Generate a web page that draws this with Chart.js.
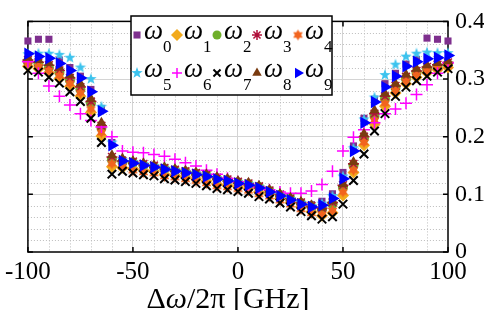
<!DOCTYPE html>
<html>
<head>
<meta charset="utf-8">
<script src="https://cdn.jsdelivr.net/npm/chart.js@4.4.0/dist/chart.umd.min.js"></script>
<style>
  html, body { margin: 0; padding: 0; background: #fff; }
  #wrap { width: 484px; height: 310px; }
</style>
</head>
<body>
<div id="wrap"><canvas id="detuningChart" width="484" height="310"></canvas></div>
<script>
// detuning in GHz, one point every 5 GHz
const detuning = [-100, -95, -90, -85, -80, -75, -70, -65, -60, -55, -50, -45, -40, -35, -30, -25, -20, -15, -10, -5,
    0, 5, 10, 15, 20, 25, 30, 35, 40, 45, 50, 55, 60, 65, 70, 75, 80, 85, 90, 95, 100];

const omega0 = [0.366, 0.369, 0.369, 0.333, 0.320, 0.305, 0.282, 0.249, 0.190, 0.160, 0.155, 0.151, 0.148, 0.144, 0.141, 0.138, 0.135, 0.132, 0.127, 0.124,
    0.120, 0.117, 0.112, 0.105, 0.098, 0.092, 0.086, 0.082, 0.088, 0.101, 0.138, 0.184, 0.232, 0.265, 0.292, 0.310, 0.326, 0.334, 0.371, 0.369, 0.366];
const omega1 = [0.322, 0.318, 0.311, 0.301, 0.287, 0.270, 0.242, 0.201, 0.148, 0.146, 0.145, 0.142, 0.140, 0.135, 0.133, 0.130, 0.127, 0.123, 0.118, 0.116,
    0.113, 0.110, 0.104, 0.100, 0.093, 0.086, 0.078, 0.070, 0.063, 0.068, 0.098, 0.138, 0.185, 0.222, 0.253, 0.276, 0.292, 0.303, 0.311, 0.316, 0.320];
const omega2 = [0.330, 0.326, 0.320, 0.311, 0.298, 0.282, 0.258, 0.215, 0.160, 0.156, 0.155, 0.151, 0.148, 0.145, 0.142, 0.139, 0.136, 0.133, 0.128, 0.125,
    0.121, 0.118, 0.113, 0.106, 0.099, 0.092, 0.085, 0.079, 0.074, 0.083, 0.112, 0.150, 0.197, 0.236, 0.266, 0.285, 0.300, 0.311, 0.318, 0.322, 0.326];
const omega3 = [0.333, 0.329, 0.324, 0.315, 0.302, 0.286, 0.261, 0.219, 0.165, 0.158, 0.157, 0.153, 0.150, 0.146, 0.143, 0.140, 0.137, 0.134, 0.129, 0.126,
    0.122, 0.119, 0.114, 0.107, 0.100, 0.093, 0.086, 0.080, 0.076, 0.086, 0.116, 0.153, 0.200, 0.240, 0.270, 0.288, 0.304, 0.314, 0.321, 0.325, 0.329];
const omega4 = [0.326, 0.322, 0.315, 0.306, 0.292, 0.276, 0.248, 0.207, 0.153, 0.148, 0.141, 0.138, 0.136, 0.131, 0.129, 0.126, 0.123, 0.119, 0.114, 0.112,
    0.109, 0.106, 0.100, 0.096, 0.089, 0.082, 0.074, 0.067, 0.065, 0.072, 0.104, 0.142, 0.190, 0.228, 0.258, 0.280, 0.296, 0.307, 0.314, 0.319, 0.323];
const omega5 = [0.343, 0.344, 0.344, 0.342, 0.337, 0.320, 0.300, 0.252, 0.190, 0.160, 0.156, 0.152, 0.149, 0.145, 0.142, 0.139, 0.136, 0.133, 0.128, 0.125,
    0.121, 0.118, 0.113, 0.106, 0.099, 0.092, 0.085, 0.080, 0.084, 0.097, 0.131, 0.180, 0.230, 0.268, 0.307, 0.325, 0.339, 0.344, 0.346, 0.345, 0.345];
const omega6 = [0.330, 0.310, 0.288, 0.270, 0.255, 0.240, 0.228, 0.217, 0.200, 0.175, 0.173, 0.172, 0.169, 0.166, 0.161, 0.155, 0.149, 0.142, 0.135, 0.128,
    0.122, 0.117, 0.112, 0.108, 0.104, 0.102, 0.102, 0.106, 0.117, 0.140, 0.175, 0.199, 0.212, 0.224, 0.240, 0.248, 0.258, 0.273, 0.290, 0.310, 0.328];
const omega7 = [0.315, 0.312, 0.303, 0.293, 0.278, 0.261, 0.232, 0.190, 0.135, 0.140, 0.137, 0.134, 0.132, 0.127, 0.125, 0.122, 0.119, 0.115, 0.110, 0.108,
    0.105, 0.102, 0.096, 0.092, 0.085, 0.078, 0.070, 0.063, 0.057, 0.061, 0.083, 0.124, 0.170, 0.210, 0.240, 0.270, 0.286, 0.297, 0.305, 0.312, 0.318];
const omega8 = [0.337, 0.333, 0.328, 0.320, 0.307, 0.292, 0.266, 0.224, 0.168, 0.162, 0.158, 0.154, 0.151, 0.147, 0.144, 0.141, 0.138, 0.135, 0.130, 0.127,
    0.123, 0.120, 0.115, 0.108, 0.101, 0.094, 0.087, 0.081, 0.077, 0.088, 0.118, 0.156, 0.205, 0.246, 0.275, 0.292, 0.308, 0.318, 0.324, 0.328, 0.331];
const omega9 = [0.344, 0.339, 0.336, 0.327, 0.315, 0.302, 0.278, 0.244, 0.185, 0.158, 0.154, 0.150, 0.147, 0.143, 0.140, 0.137, 0.134, 0.131, 0.126, 0.123,
    0.119, 0.116, 0.111, 0.104, 0.097, 0.090, 0.083, 0.078, 0.081, 0.093, 0.127, 0.175, 0.224, 0.260, 0.286, 0.305, 0.322, 0.330, 0.335, 0.337, 0.341];

const xTickValues = [-100, -50, 0, 50, 100];
const yTickValues = [0, 0.1, 0.2, 0.3, 0.4];
const subscripts = ['0', '1', '2', '3', '4', '5', '6', '7', '8', '9'];

const FONT = "'Liberation Serif', 'Times New Roman', serif";

// filled star marker drawn on a small canvas (used as pointStyle image)
function makeStar(points, outer, inner, color) {
    const c = document.createElement('canvas');
    const s = Math.ceil(outer * 2 + 2);
    c.width = s;
    c.height = s;
    const g = c.getContext('2d');
    g.fillStyle = color;
    g.beginPath();
    for (let i = 0; i < points * 2; i++) {
        const r = i % 2 === 0 ? outer : inner;
        const a = -Math.PI / 2 + i * Math.PI / points;
        const px = s / 2 + r * Math.cos(a);
        const py = s / 2 + r * Math.sin(a);
        if (i === 0) g.moveTo(px, py); else g.lineTo(px, py);
    }
    g.closePath();
    g.fill();
    return c;
}

const hexOrange = makeStar(6, 5.5, 3.2, '#F2641E');
const pentaCyan = makeStar(5, 6, 2.4, '#3CC3EE');

const series = [
    { values: omega0, style: 'rect', radius: 5, legendRadius: 5, color: '#7E2F8E', fill: true },
    { values: omega1, style: 'rectRot', radius: 6, legendRadius: 6, color: '#F2AA1C', fill: true },
    { values: omega2, style: 'circle', radius: 5, legendRadius: 4.5, color: '#6FAF2A', fill: true },
    { values: omega3, style: 'star', radius: 5.5, legendRadius: 5, color: '#B0103A', fill: false, line: 1.5 },
    { values: omega4, style: hexOrange, radius: 5, legendRadius: 5, color: '#F2641E', fill: true },
    { values: omega5, style: pentaCyan, radius: 5, legendRadius: 5, color: '#3CC3EE', fill: true },
    { values: omega6, style: 'cross', radius: 6, legendRadius: 5, color: '#FF00FF', fill: false, line: 1.5 },
    { values: omega7, style: 'crossRot', radius: 6, legendRadius: 5, color: '#000000', fill: false, line: 2 },
    { values: omega8, style: 'triangle', radius: 6, legendRadius: 5.5, color: '#7A3B10', fill: true },
    { values: omega9, style: 'triangle', radius: 7.2, legendRadius: 6, color: '#0000FF', fill: true, rotation: 90 }
];

const framePlugin = {
    id: 'frame',
    beforeDatasetsDraw(chart) {
        const { ctx, chartArea: a, scales: { x, y } } = chart;
        ctx.save();
        // minor dotted grid
        ctx.strokeStyle = '#bdbdbd';
        ctx.lineWidth = 1;
        ctx.setLineDash([1, 2]);
        for (let v = -90; v <= 90; v += 10) {
            if (v % 50 === 0) continue;
            const px = Math.round(x.getPixelForValue(v)) + 0.5;
            ctx.beginPath();
            ctx.moveTo(px, a.top);
            ctx.lineTo(px, a.bottom);
            ctx.stroke();
        }
        for (let k = 1; k < 20; k++) {
            if (k % 5 === 0) continue;
            const py = Math.round(y.getPixelForValue(k * 0.02)) + 0.5;
            ctx.beginPath();
            ctx.moveTo(a.left, py);
            ctx.lineTo(a.right, py);
            ctx.stroke();
        }
        ctx.setLineDash([]);

        // box and inward ticks
        ctx.strokeStyle = '#000';
        ctx.lineWidth = 1.5;
        ctx.strokeRect(a.left, a.top, a.width, a.height);
        const tl = 5;
        ctx.beginPath();
        xTickValues.forEach(v => {
            const px = x.getPixelForValue(v);
            ctx.moveTo(px, a.bottom); ctx.lineTo(px, a.bottom - tl);
            ctx.moveTo(px, a.top); ctx.lineTo(px, a.top + tl);
        });
        yTickValues.forEach(v => {
            const py = y.getPixelForValue(v);
            ctx.moveTo(a.left, py); ctx.lineTo(a.left + tl, py);
            ctx.moveTo(a.right, py); ctx.lineTo(a.right - tl, py);
        });
        ctx.stroke();
        ctx.restore();
    },
    afterDraw(chart) {
        const { ctx } = chart;
        ctx.save();

        // legend box
        const bx = 131, by = 16, bw = 201, bh = 79;
        ctx.fillStyle = '#fff';
        ctx.fillRect(bx, by, bw, bh);
        ctx.strokeStyle = '#000';
        ctx.lineWidth = 1.5;
        ctx.strokeRect(bx, by, bw, bh);

        const colX = [137, 177, 217, 257, 298];
        const rowY = [35, 73];
        series.forEach((s, i) => {
            const mx = colX[i % 5];
            const my = rowY[Math.floor(i / 5)];
            ctx.fillStyle = s.fill ? s.color : 'rgba(0,0,0,0)';
            ctx.strokeStyle = s.color;
            ctx.lineWidth = s.line || 0;
            Chart.helpers.drawPoint(ctx, {
                pointStyle: s.style,
                radius: s.legendRadius,
                rotation: s.rotation || 0,
                borderWidth: s.line || 0
            }, mx, my);

            ctx.fillStyle = '#000';
            ctx.textAlign = 'left';
            ctx.textBaseline = 'alphabetic';
            const tx = mx + 7;
            const base = my + 4;
            ctx.font = `italic 27px ${FONT}`;
            ctx.fillText('ω', tx, base);
            const w = ctx.measureText('ω').width;
            ctx.font = `17px ${FONT}`;
            ctx.fillText(subscripts[i], tx + w, base + 13);
        });

        // x axis title
        const parts = [
            { t: 'Δ', f: `30px ${FONT}` },
            { t: 'ω', f: `italic 30px ${FONT}` },
            { t: '/2π [GHz]', f: `30px ${FONT}` }
        ];
        let total = 0;
        parts.forEach(p => { ctx.font = p.f; p.w = ctx.measureText(p.t).width; total += p.w; });
        let cx = 228 - total / 2;
        ctx.fillStyle = '#000';
        ctx.textAlign = 'left';
        parts.forEach(p => { ctx.font = p.f; ctx.fillText(p.t, cx, 308); cx += p.w; });
        ctx.restore();
    }
};

const ctx = document.getElementById('detuningChart').getContext('2d');
new Chart(ctx, {
    type: 'scatter',
    data: {
        datasets: series.map((s, i) => ({
            label: 'ω' + subscripts[i],
            data: detuning.map((x, k) => ({ x: x, y: s.values[k] })),
            pointStyle: s.style,
            pointRadius: s.radius,
            pointHoverRadius: s.radius,
            pointRotation: s.rotation || 0,
            pointBackgroundColor: s.fill ? s.color : 'rgba(0,0,0,0)',
            pointBorderColor: s.color,
            pointBorderWidth: s.line || 0,
            showLine: false,
            order: 9 - i,
            clip: false
        }))
    },
    options: {
        responsive: false,
        animation: false,
        events: [],
        layout: { padding: { left: 21, top: 16, right: 0, bottom: 0 } },
        plugins: {
            legend: { display: false },
            tooltip: { enabled: false }
        },
        scales: {
            x: {
                type: 'linear',
                min: -100,
                max: 100,
                afterFit: scale => { scale.height = 58; },
                afterBuildTicks: scale => { scale.ticks = xTickValues.map(v => ({ value: v })); },
                grid: {
                    color: c => (Math.abs(c.tick.value) === 100 ? 'rgba(0,0,0,0)' : '#d4d4d4'),
                    drawTicks: false
                },
                border: { display: false },
                ticks: {
                    autoSkip: false,
                    maxRotation: 0,
                    padding: 5,
                    color: '#000',
                    font: { family: FONT, size: 25 },
                    callback: v => String(v)
                }
            },
            y: {
                type: 'linear',
                position: 'right',
                min: 0,
                max: 0.4,
                afterFit: scale => { scale.width = 36; },
                afterBuildTicks: scale => { scale.ticks = yTickValues.map(v => ({ value: v })); },
                grid: {
                    color: c => (c.tick.value === 0 || c.tick.value === 0.4 ? 'rgba(0,0,0,0)' : '#d4d4d4'),
                    drawTicks: false
                },
                border: { display: false },
                ticks: {
                    padding: 7,
                    color: '#000',
                    font: { family: FONT, size: 24 },
                    callback: v => (v === 0 ? '0' : v.toFixed(1))
                }
            }
        }
    },
    plugins: [framePlugin]
});
</script>
</body>
</html>
